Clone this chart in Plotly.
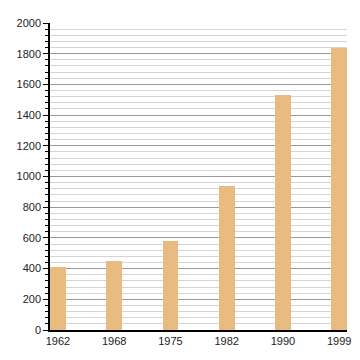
import plotly.graph_objects as go

years = ["1962", "1968", "1975", "1982", "1990", "1999"]
population = [413, 452, 581, 935, 1529, 1839]

fig = go.Figure(go.Bar(x=years, y=population, marker_color="#E8BB80", width=0.28,
                       marker_line_width=0))
fig.update_layout(
    width=352, height=352,
    margin=dict(l=42, r=9, t=12, b=30),
    paper_bgcolor="white", plot_bgcolor="white",
    font=dict(family="Liberation Sans, Arial, sans-serif", size=11, color="#222"),
    showlegend=False,
    bargap=0,
)
fig.update_xaxes(type="category", range=[-0.14, 5.14], showline=True, linecolor="black",
                 linewidth=1.5, ticks="", showgrid=False, tickfont=dict(size=11))
fig.update_yaxes(range=[0, 2000], dtick=200, showline=True, linecolor="black", linewidth=1.5,
                 ticks="outside", ticklen=5, tickcolor="black", showgrid=True,
                 gridcolor="#999999", gridwidth=1, zeroline=False,
                 minor=dict(dtick=40, ticks="outside", ticklen=3, tickcolor="black",
                            showgrid=True, gridcolor="#d4d4d4", gridwidth=1))
fig.write_html("out.html")
